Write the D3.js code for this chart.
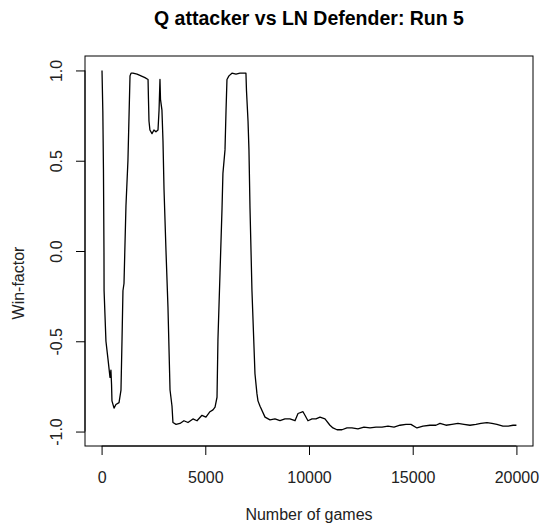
<!DOCTYPE html>
<html>
<head>
<meta charset="utf-8">
<script src="https://cdn.jsdelivr.net/npm/d3@7"></script>
<style>
  body { margin: 0; background: #fff; }
  svg { display: block; font-family: "Liberation Sans", Arial, sans-serif; }
</style>
</head>
<body>
<div id="chart"></div>
<script>
// data
const games = [
  20, 60, 90, 115, 120, 210, 310, 405, 450, 480, 500, 600, 690, 840, 935, 985, 1030, 1080, 1175, 1270,
  1370, 1420, 1510, 1710, 2090, 2240, 2260, 2285, 2330, 2430, 2525, 2620, 2720, 2770, 2815, 2840, 2910, 2960, 3010, 3105,
  3200, 3300, 3395, 3440, 3590, 3780, 3970, 4165, 4405, 4600, 4840, 5030, 5225, 5370, 5470, 5565, 5610, 5710, 5805, 5850,
  5950, 6000, 6045, 6140, 6285, 6480, 6670, 6960, 6985, 7060, 7105, 7155, 7250, 7395, 7490, 7540, 7640, 7880, 8120, 8360,
  8600, 8840, 9080, 9325, 9470, 9710, 9805, 9950, 10145, 10335, 10530, 10770, 11010, 11155, 11350, 11590, 11830, 12070, 12360, 12650,
  12940, 13230, 13520, 13810, 14100, 14385, 14675, 14915, 15205, 15495, 15830, 16120, 16315, 16605, 16890, 17180, 17470, 17760, 18050, 18290,
  18580, 18820, 19060, 19350, 19600, 19840, 20000
];
const winFactor = [
  1.00, 0.77, 0.45, -0.01, -0.22, -0.50, -0.60, -0.70, -0.66, -0.74, -0.83, -0.87, -0.85, -0.84, -0.77, -0.49, -0.22, -0.18, 0.25, 0.50,
  0.97, 0.985, 0.985, 0.98, 0.96, 0.95, 0.84, 0.72, 0.67, 0.65, 0.67, 0.66, 0.67, 0.78, 0.95, 0.84, 0.78, 0.61, 0.34, 0.00,
  -0.31, -0.77, -0.86, -0.95, -0.96, -0.955, -0.94, -0.95, -0.93, -0.94, -0.91, -0.92, -0.89, -0.88, -0.865, -0.81, -0.49, -0.12, 0.23, 0.43,
  0.56, 0.78, 0.95, 0.97, 0.985, 0.98, 0.985, 0.985, 0.89, 0.72, 0.56, 0.24, -0.22, -0.68, -0.79, -0.83, -0.86, -0.92, -0.935, -0.93,
  -0.94, -0.93, -0.93, -0.94, -0.90, -0.89, -0.91, -0.94, -0.93, -0.93, -0.92, -0.93, -0.965, -0.98, -0.99, -0.99, -0.98, -0.98, -0.985, -0.975,
  -0.98, -0.975, -0.975, -0.97, -0.975, -0.965, -0.96, -0.96, -0.98, -0.97, -0.965, -0.965, -0.955, -0.965, -0.96, -0.955, -0.96, -0.965, -0.96, -0.955,
  -0.95, -0.955, -0.96, -0.97, -0.97, -0.965, -0.965
];
const xTicks = [0, 5000, 10000, 15000, 20000];
const yTicks = [-1.0, -0.5, 0.0, 0.5, 1.0];

const width = 541, height = 523;
const box = { left: 85, right: 533, top: 56, bottom: 446 };

const svg = d3.select("#chart").append("svg")
  .attr("width", width)
  .attr("height", height);

// R style: range padded by 4% each side
const x = d3.scaleLinear().domain([-800, 20800]).range([box.left, box.right]);
const y = d3.scaleLinear().domain([-1.08, 1.08]).range([box.bottom, box.top]);

/* plot frame */
svg.append("rect")
  .attr("x", box.left)
  .attr("y", box.top)
  .attr("width", box.right - box.left)
  .attr("height", box.bottom - box.top)
  .attr("fill", "none")
  .attr("stroke", "#000")
  .attr("stroke-width", 1);

/* axes */
const xAxis = svg.append("g")
  .attr("transform", `translate(0,${box.bottom})`)
  .call(d3.axisBottom(x).tickValues(xTicks).tickFormat(d3.format("d"))
    .tickSize(9).tickPadding(17).tickSizeOuter(0));
xAxis.select(".domain").attr("d", `M${x(0)},0H${x(20000)}`);
xAxis.selectAll("text").attr("font-size", 16).attr("fill", "#222").attr("font-family", "Liberation Sans, Arial, sans-serif");

const yAxis = svg.append("g")
  .attr("transform", `translate(${box.left},0)`)
  .call(d3.axisLeft(y).tickValues(yTicks).tickSize(9).tickSizeOuter(0));
yAxis.select(".domain").attr("d", `M0,${y(-1)}V${y(1)}`);
yAxis.selectAll("text")
  .attr("font-size", 16)
  .attr("fill", "#222")
  .attr("font-family", "Liberation Sans, Arial, sans-serif")
  .attr("text-anchor", "middle")
  .attr("x", null).attr("dy", null)
  .attr("transform", `translate(-23,0) rotate(-90)`)
  .text(d => d.toFixed(1));

/* line */
const pts = games.map((g, i) => [g, winFactor[i]]);
svg.append("path")
  .datum(pts)
  .attr("fill", "none")
  .attr("stroke", "#000")
  .attr("stroke-width", 1.3)
  .attr("stroke-linejoin", "round")
  .attr("d", d3.line().x(d => x(d[0])).y(d => y(d[1])));

/* titles */
svg.append("text")
  .attr("x", (box.left + box.right) / 2)
  .attr("y", 25)
  .attr("text-anchor", "middle")
  .attr("font-size", 19.5)
  .attr("font-weight", "bold")
  .text("Q attacker vs LN Defender: Run 5");

svg.append("text")
  .attr("x", (box.left + box.right) / 2)
  .attr("y", 520)
  .attr("text-anchor", "middle")
  .attr("font-size", 16)
  .attr("fill", "#222")
  .text("Number of games");

svg.append("text")
  .attr("transform", `translate(24,283) rotate(-90)`)
  .attr("text-anchor", "middle")
  .attr("font-size", 16)
  .attr("fill", "#222")
  .text("Win-factor");
</script>
</body>
</html>
